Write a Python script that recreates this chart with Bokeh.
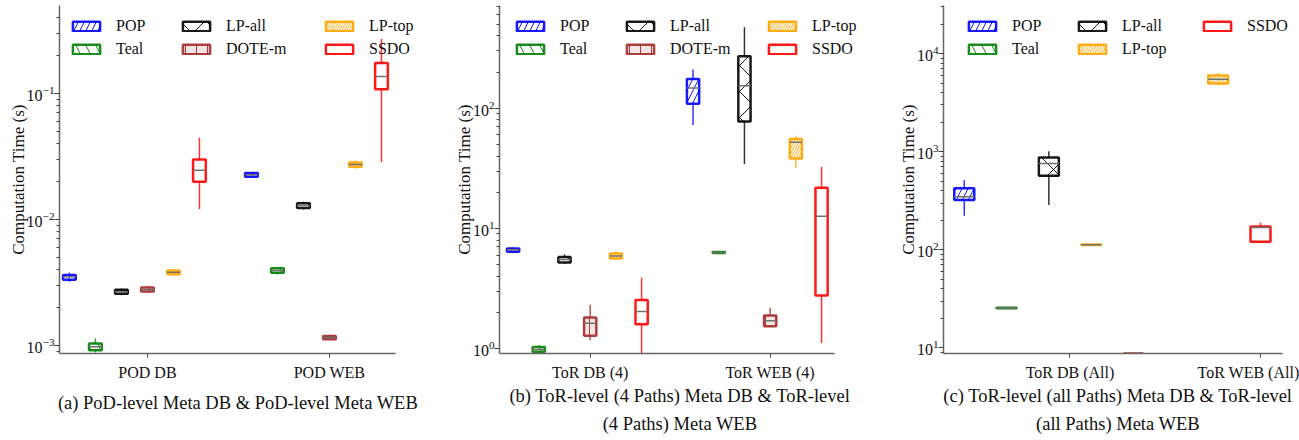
from bokeh.plotting import figure
from bokeh.layouts import row
from bokeh.models import (Legend, LegendItem, FixedTicker, Title,
                          ColumnDataSource, Range1d)
from bokeh.embed import file_html
from bokeh.resources import INLINE

FONT = "Liberation Serif"

methods = ["POP", "Teal", "LP-all", "DOTE-m", "LP-top", "SSDO"]
colors = {"POP": "#0000ff", "Teal": "#008000", "LP-all": "#000000",
          "DOTE-m": "#a52a2a", "LP-top": "#ffa500", "SSDO": "#ff0000"}
hatches = {"POP": "/", "Teal": "\\", "LP-all": "x", "DOTE-m": "|",
           "LP-top": "/", "SSDO": None}
hatch_scales = {"POP": 12, "Teal": 20, "LP-all": 26, "DOTE-m": 11,
                "LP-top": 5, "SSDO": 12}

# ---- data: [whisker low, q1, median, q3, whisker high] per group ----
# (a) PoD-level
a_groups = ["POD DB", "POD WEB"]
a_POP = [[0.0032, 0.00333, 0.00351, 0.00362, 0.0038],
         [0.0216, 0.0218, 0.0226, 0.0233, 0.0236]]
a_Teal = [[0.00088, 0.000918, 0.00098, 0.00104, 0.00114],
          [0.00366, 0.00378, 0.00394, 0.0041, 0.00418]]
a_LPall = [[0.00251, 0.00257, 0.00267, 0.00277, 0.00283],
           [0.0120, 0.0123, 0.0129, 0.01346, 0.0138]]
a_DOTEm = [[0.00262, 0.00268, 0.00278, 0.00289, 0.00298],
           [0.0011, 0.00112, 0.00116, 0.00119, 0.00122]]
a_LPtop = [[0.00355, 0.00368, 0.00382, 0.00394, 0.00408],
           [0.0252, 0.0262, 0.0273, 0.0283, 0.0294]]
a_SSDO = [[0.0121, 0.0199, 0.0245, 0.0299, 0.0444],
          [0.0286, 0.1076, 0.136, 0.174, 0.270]]

# (b) ToR-level (4 paths)
b_groups = ["ToR DB (4)", "ToR WEB (4)"]
b_POP = [[6.26, 6.38, 6.63, 6.80, 6.93],
         [72.4, 109, 147, 175, 210]]
b_Teal = [[0.93, 0.94, 0.98, 1.03, 1.065],
          [6.2, 6.25, 6.3, 6.35, 6.4]]
b_LPall = [[5.07, 5.21, 5.51, 5.79, 6.06],
           [34.4, 77.4, 154, 271, 472]]
b_DOTEm = [[1.17, 1.28, 1.62, 1.81, 2.31],
           [1.51, 1.53, 1.70, 1.88, 2.18]]
b_LPtop = [[5.54, 5.62, 5.90, 6.18, 6.45],
           [31.9, 38.1, 52.0, 55.5, 59.0]]
b_SSDO = [[0.8, 1.59, 2.03, 2.54, 3.88],
          [1.11, 2.76, 12.6, 21.8, 32.5]]

# (c) ToR-level (all paths)
c_groups = ["ToR DB (All)", "ToR WEB (All)"]
c_POP = [[223, 322, 348, 424, 511], None]
c_Teal = [[25.3, 25.4, 25.5, 25.6, 25.7], None]
c_LPall = [[286, 569, 760, 875, 1014], None]
c_LPtop = [[111, 112, 112.5, 113, 114],
           [4765, 4955, 5480, 6010, 6350]]
c_DOTEm = [[8.6, 8.65, 8.7, 8.75, 8.8], None]
c_SSDO = [None, [120.5, 120.5, 168.7, 172.6, 189.7]]

captions = {
    "a": ["(a) PoD-level Meta DB & PoD-level Meta WEB"],
    "b": ["(b) ToR-level (4 Paths) Meta DB & ToR-level", "(4 Paths) Meta WEB"],
    "c": ["(c) ToR-level (all Paths) Meta DB & ToR-level", "(all Paths) Meta WEB"],
}

FRAME_H = 349
LEFT = 59


def make_fig(width, xr, yr, right_border, axis_bounds):
    p = figure(width=width, height=440, y_axis_type="log",
               x_range=Range1d(*xr), y_range=Range1d(*yr),
               output_backend="svg", toolbar_location=None,
               min_border_left=LEFT, min_border_right=right_border,
               min_border_top=5, min_border_bottom=86)
    p.outline_line_color = None
    p.grid.visible = False
    p.background_fill_color = "white"
    for ax in (p.xaxis[0], p.yaxis[0]):
        ax.axis_line_color = "#666666"
        ax.axis_line_width = 1.5
        ax.major_tick_line_color = "#444444"
        ax.minor_tick_line_color = "#444444"
        ax.major_label_text_font = FONT
        ax.major_label_text_font_size = "16px"
        ax.major_label_text_color = "#111111"
        ax.axis_label_text_font = FONT
        ax.axis_label_text_font_size = "17px"
        ax.axis_label_text_font_style = "normal"
        ax.axis_label_text_color = "#111111"
        ax.major_tick_in = 0
        ax.minor_tick_in = 0
    p.yaxis.major_tick_out = 5
    p.yaxis.minor_tick_out = 3
    p.yaxis.major_label_standoff = 0
    p.yaxis.axis_label_standoff = -4
    p.yaxis.axis_label = "Computation Time (s)"
    p.xaxis.major_tick_out = 4
    p.xaxis.minor_tick_out = 0
    p.xaxis.major_label_standoff = 6
    p.xaxis.axis_label = None
    p.xaxis.axis_label_standoff = 0
    p.xaxis.ticker = FixedTicker(ticks=[0, 1])
    p.xaxis.bounds = axis_bounds
    return p


def draw(p, data, slots, slot_w, box_w, order):
    rends = {}
    for m in order:
        col = colors[m]
        d = dict(x=[], lo=[], q1=[], med=[], q3=[], hi=[], left=[], right=[])
        for gi, st in enumerate(data[m]):
            if st is None:
                continue
            x = gi + slots[m][gi] * slot_w
            d["x"].append(x)
            d["left"].append(x - box_w / 2)
            d["right"].append(x + box_w / 2)
            for k, v in zip(["lo", "q1", "med", "q3", "hi"], st):
                d[k].append(v)
        src = ColumnDataSource(d)
        p.segment(x0="x", y0="lo", x1="x", y1="q1", source=src,
                  line_color=col, line_width=1.5, line_alpha=0.8)
        p.segment(x0="x", y0="q3", x1="x", y1="hi", source=src,
                  line_color=col, line_width=1.5, line_alpha=0.8)
        kw = dict(fill_color=col if m == "DOTE-m" else "white",
                  fill_alpha=0.12 if m == "DOTE-m" else 0.0,
                  line_color=col, line_width=2.5, line_alpha=0.9)
        if hatches[m]:
            kw.update(hatch_pattern=hatches[m], hatch_color=col,
                      hatch_scale=hatch_scales[m], hatch_weight=1,
                      hatch_alpha=0.9)
        r = p.vbar(x="x", width=box_w, bottom="q1", top="q3", source=src, **kw)
        p.segment(x0="left", y0="med", x1="right", y1="med", source=src,
                  line_color="#707070", line_width=1.5)
        rends[m] = r
    return rends


def add_legends(p, rends, columns, xoffs):
    for col_items, xo in zip(columns, xoffs):
        items = [LegendItem(label=m, renderers=[rends[m]]) for m in col_items]
        n = len(col_items)
        h = n * 19 + (n - 1) * 4
        top_from_frame_top = 12
        leg = Legend(items=items, location=(xo, FRAME_H - top_from_frame_top - h),
                     orientation="vertical", padding=0, margin=0, spacing=4,
                     glyph_width=34, glyph_height=12, label_height=19,
                     label_standoff=13, label_text_font=FONT,
                     label_text_font_size="16px", label_text_color="#111111",
                     background_fill_alpha=0, border_line_alpha=0)
        p.add_layout(leg)


def add_captions(p, lines, standoffs):
    for txt, so in zip(lines, standoffs):
        t = Title(text=txt, align="center", text_font=FONT,
                  text_font_size="18.5px", text_font_style="normal",
                  text_color="#111111", standoff=so)
        p.add_layout(t, "below")


slot_ab = 1 / 7
slots_ab = {"POP": [-3, -3], "Teal": [-2, -2], "LP-all": [-1, -1],
            "DOTE-m": [0, 0], "LP-top": [1, 1], "SSDO": [2, 2]}

# ---- panel a ----
pa = make_fig(440, (-0.483, 1.478), (0.000865, 0.497), 24, (-0.483, 1.363))
pa.xaxis.major_label_overrides = {0: a_groups[0], 1: a_groups[1]}
ra = draw(pa, {"POP": a_POP, "Teal": a_Teal, "LP-all": a_LPall,
               "DOTE-m": a_DOTEm, "LP-top": a_LPtop, "SSDO": a_SSDO},
          slots_ab, slot_ab, 0.07, methods)
add_legends(pa, ra, [["POP", "Teal"], ["LP-all", "DOTE-m"], ["LP-top", "SSDO"]],
            [10, 120, 263])
add_captions(pa, captions["a"], [14])

# ---- panel b ----
pb = make_fig(444, (-0.504, 1.502), (0.909, 716), 24, (-0.504, 1.359))
pb.xaxis.major_label_overrides = {0: b_groups[0], 1: b_groups[1]}
rb = draw(pb, {"POP": b_POP, "Teal": b_Teal, "LP-all": b_LPall,
               "DOTE-m": b_DOTEm, "LP-top": b_LPtop, "SSDO": b_SSDO},
          slots_ab, slot_ab, 0.068, methods)
add_legends(pb, rb, [["POP", "Teal"], ["LP-all", "DOTE-m"], ["LP-top", "SSDO"]],
            [14, 124, 266])
add_captions(pb, captions["b"], [0, 13])

# ---- panel c ----
slot_c = 0.222
slots_c = {"POP": [-2.5, None], "Teal": [-1.5, None], "LP-all": [-0.5, None],
           "LP-top": [0.5, -1], "DOTE-m": [1.5, None], "SSDO": [None, 0]}
pc = make_fig(415, (-0.664, 1.168), (8.75, 31030), 7, (-0.664, 1.114))
pc.xaxis.major_label_overrides = {0: c_groups[0], 1: c_groups[1]}
rc = draw(pc, {"POP": c_POP, "Teal": c_Teal, "LP-all": c_LPall,
               "LP-top": c_LPtop, "DOTE-m": c_DOTEm, "SSDO": c_SSDO},
          slots_c, slot_c, 0.105, ["POP", "Teal", "LP-all", "LP-top", "DOTE-m", "SSDO"])
add_legends(pc, rc, [["POP", "Teal"], ["LP-all", "LP-top"], ["SSDO"]],
            [22, 132, 257])
add_captions(pc, captions["c"], [0, 13])

layout = row(pa, pb, pc, spacing=0)
open("out.html", "w").write(file_html(layout, INLINE))
